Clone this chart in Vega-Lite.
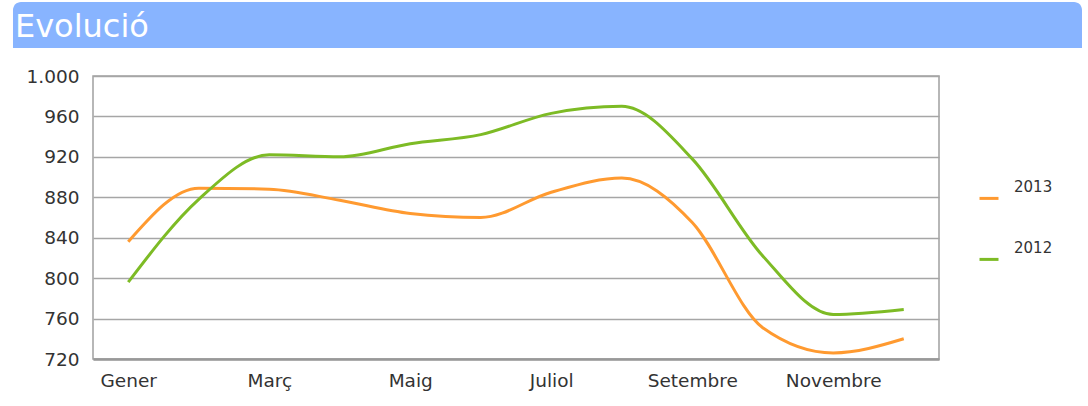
{
  "$schema": "https://vega.github.io/schema/vega-lite/v6.json",
  "background": "white",
  "padding": {"left": 12, "top": 2, "right": 0, "bottom": 0},
  "config": {"font": "DejaVu Sans", "view": {"stroke": null}},
  "spacing": 18,
  "vconcat": [
    {
      "width": 989,
      "height": 46,
      "data": {"values": [{"titol": "Evolució"}]},
      "layer": [
        {
          "mark": {"type": "rect", "color": "#88b4ff", "cornerRadiusTopLeft": 8, "cornerRadiusTopRight": 8, "clip": false},
          "encoding": {
            "x": {"datum": -0.0809, "type": "quantitative", "scale": {"domain": [0, 1]}, "axis": null},
            "x2": {"datum": 1},
            "y": {"datum": 0, "type": "quantitative", "scale": {"domain": [0, 1]}, "axis": null},
            "y2": {"datum": 1}
          }
        },
        {
          "mark": {"type": "text", "align": "left", "baseline": "alphabetic", "fontSize": 32, "color": "white", "font": "DejaVu Sans"},
          "encoding": {
            "x": {"datum": -0.0789, "type": "quantitative"},
            "y": {"datum": 0.24, "type": "quantitative"},
            "text": {"field": "titol", "type": "nominal"}
          }
        }
      ]
    },
    {
      "width": 846,
      "height": 283,
      "view": {"stroke": "#a0a0a0", "strokeWidth": 1.5, "fill": "white"},
      "data": {
        "values": [
          {"mes": "Gener", "any": "2013", "valor": 836},
          {"mes": "Febrer", "any": "2013", "valor": 889},
          {"mes": "Març", "any": "2013", "valor": 888},
          {"mes": "Abril", "any": "2013", "valor": 877},
          {"mes": "Maig", "any": "2013", "valor": 864},
          {"mes": "Juny", "any": "2013", "valor": 860},
          {"mes": "Juliol", "any": "2013", "valor": 885},
          {"mes": "Agost", "any": "2013", "valor": 899},
          {"mes": "Setembre", "any": "2013", "valor": 855},
          {"mes": "Octubre", "any": "2013", "valor": 751},
          {"mes": "Novembre", "any": "2013", "valor": 726},
          {"mes": "Desembre", "any": "2013", "valor": 740},
          {"mes": "Gener", "any": "2012", "valor": 796},
          {"mes": "Febrer", "any": "2012", "valor": 878},
          {"mes": "Març", "any": "2012", "valor": 922},
          {"mes": "Abril", "any": "2012", "valor": 920},
          {"mes": "Maig", "any": "2012", "valor": 933},
          {"mes": "Juny", "any": "2012", "valor": 942},
          {"mes": "Juliol", "any": "2012", "valor": 963},
          {"mes": "Agost", "any": "2012", "valor": 970},
          {"mes": "Setembre", "any": "2012", "valor": 918},
          {"mes": "Octubre", "any": "2012", "valor": 822},
          {"mes": "Novembre", "any": "2012", "valor": 764},
          {"mes": "Desembre", "any": "2012", "valor": 769}
        ]
      },
      "mark": {"type": "line", "interpolate": "monotone", "strokeWidth": 3},
      "encoding": {
        "x": {
          "field": "mes",
          "type": "ordinal",
          "sort": ["Gener", "Febrer", "Març", "Abril", "Maig", "Juny", "Juliol", "Agost", "Setembre", "Octubre", "Novembre", "Desembre"],
          "axis": {
            "title": null,
            "values": ["Gener", "Març", "Maig", "Juliol", "Setembre", "Novembre"],
            "ticks": false,
            "domain": true,
            "domainColor": "#999999",
            "domainWidth": 2.5,
            "labelFontSize": 18.5,
            "labelColor": "#333333",
            "labelPadding": 12,
            "labelAngle": 0,
            "grid": false
          }
        },
        "y": {
          "field": "valor",
          "type": "quantitative",
          "scale": {"domain": [720, 1000], "zero": false, "nice": false},
          "axis": {
            "title": null,
            "values": [720, 760, 800, 840, 880, 920, 960, 1000],
            "ticks": false,
            "domain": false,
            "grid": true,
            "gridColor": "#a6a6a6",
            "gridWidth": 1.5,
            "labelFontSize": 18.5,
            "labelColor": "#333333",
            "labelPadding": 14,
            "minExtent": 80,
            "labelExpr": "replace(format(datum.value, ','), ',', '.')"
          }
        },
        "color": {
          "field": "any",
          "type": "nominal",
          "scale": {"domain": ["2013", "2012"], "range": ["#ff9a30", "#7dbb25"]},
          "legend": {
            "title": null,
            "orient": "none",
            "legendX": 885,
            "legendY": 174,
            "padding": 0,
            "symbolType": "M-1,1.2H1",
            "symbolSize": 361,
            "symbolStrokeWidth": 3,
            "labelFontSize": 15,
            "labelColor": "#333333",
            "labelOffset": 14,
            "rowPadding": 32
          }
        }
      }
    }
  ]
}
